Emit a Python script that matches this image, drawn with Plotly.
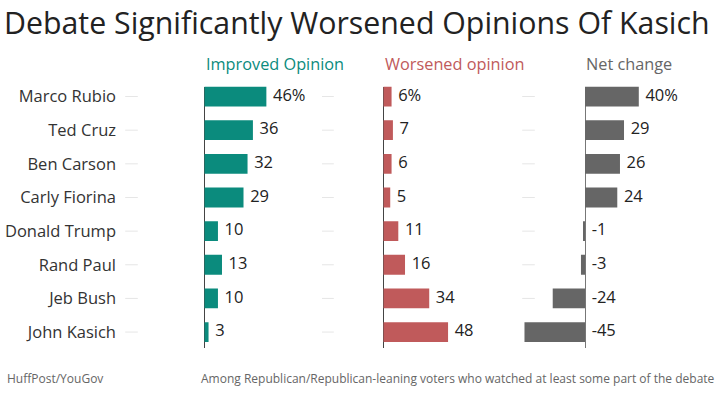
import plotly.graph_objects as go
from plotly.subplots import make_subplots

candidates = ["Marco Rubio", "Ted Cruz", "Ben Carson", "Carly Fiorina",
              "Donald Trump", "Rand Paul", "Jeb Bush", "John Kasich"]
improved = [46, 36, 32, 29, 10, 13, 10, 3]
worsened = [6, 7, 6, 5, 11, 16, 34, 48]
net_change = [40, 29, 26, 24, -1, -3, -24, -45]

headers = ["Improved Opinion", "Worsened opinion", "Net change"]
colors = ["#0b8b7d", "#c05a5b", "#666666"]
axis_colors = ["#444444", "#444444", "#777777"]
series = [improved, worsened, net_change]

W, H = 720, 393
K = 1.345  # px per unit
# panel pixel layout: (domain start, zero position, domain end, dash offset px)
panels = [(120, 204.5, 322, -73), (322, 383.5, 515, -56), (515, 585, 720, -56.5)]
ytop, ybot = 85, 348
yrange = [7.48, -0.296]

fig = make_subplots(rows=1, cols=3, shared_yaxes=False, horizontal_spacing=0)

FONT = "Open Sans"

for i, (vals, col) in enumerate(zip(series, colors)):
    c = i + 1
    d0, z, d1, dash = panels[i]
    dx = dash / K
    # light dashes (hidden where a bar covers them)
    keep = [n for n, v in zip(candidates, vals) if min(v, 0) > dx + 4]
    fig.add_trace(go.Scatter(
        x=[dx] * len(keep), y=keep, mode="markers",
        marker=dict(symbol="line-ew", size=9, line=dict(width=1, color="#e6e6e6")),
        hoverinfo="skip", showlegend=False), row=1, col=c)
    fig.add_trace(go.Bar(
        x=vals, y=candidates, orientation="h", marker_color=col,
        marker_line_width=0, showlegend=False), row=1, col=c)
    labels = [f"{v}%" if j == 0 else f"{v}" for j, v in enumerate(vals)]
    fig.add_trace(go.Scatter(
        x=[max(v, 0) for v in vals], y=candidates, mode="markers+text", text=labels,
        textposition="middle right", cliponaxis=False,
        marker=dict(size=9, opacity=0),
        textfont=dict(family=FONT, size=16.5, color="#222222"),
        hoverinfo="skip", showlegend=False), row=1, col=c)
    xa = "xaxis" if c == 1 else f"xaxis{c}"
    ya = "yaxis" if c == 1 else f"yaxis{c}"
    fig.layout[xa].update(
        domain=[d0 / W, d1 / W],
        range=[-(z - d0) / K, (d1 - z) / K],
        showgrid=False, showticklabels=False, ticks="",
        zeroline=True, zerolinecolor=axis_colors[i], zerolinewidth=1, fixedrange=True)
    fig.layout[ya].update(
        domain=[(H - ybot) / H, (H - ytop) / H],
        categoryorder="array", categoryarray=candidates, range=yrange,
        showgrid=False, zeroline=False, showticklabels=(c == 1), ticks="",
        ticklabelstandoff=3,
        tickfont=dict(family=FONT, size=16.5, color="#333333"), fixedrange=True)
    fig.add_annotation(
        text=headers[i], xref=f"x{c}" if c > 1 else "x", x=0, xanchor="left",
        xshift=-1, yref="paper", y=(H - 62) / H, yanchor="middle", showarrow=False,
        font=dict(family=FONT, size=16.3, color=col))

fig.add_annotation(
    text="Debate Significantly Worsened Opinions Of Kasich", xref="paper", x=2 / W,
    xanchor="left", yref="paper", y=(H - 21) / H, yanchor="middle", showarrow=False,
    font=dict(family=FONT, size=30.3, color="#222222"))
fig.add_annotation(
    text="HuffPost/YouGov", xref="paper", x=5 / W, xanchor="left", yref="paper",
    y=(H - 378) / H, yanchor="middle", showarrow=False,
    font=dict(family=FONT, size=12, color="#666666"))
fig.add_annotation(
    text="Among Republican/Republican-leaning voters who watched at least some part of the debate",
    xref="paper", x=717 / W, xanchor="right", yref="paper", y=(H - 378) / H,
    yanchor="middle", showarrow=False,
    font=dict(family=FONT, size=12, color="#666666"))

fig.update_layout(
    width=W, height=H, margin=dict(l=0, r=0, t=0, b=0),
    paper_bgcolor="white", plot_bgcolor="white", bargap=0.41,
    font=dict(family=FONT))

fig.write_html("out.html", config={"displayModeBar": False},
               post_script="document.body.style.margin='0';document.body.style.overflow='hidden';")
